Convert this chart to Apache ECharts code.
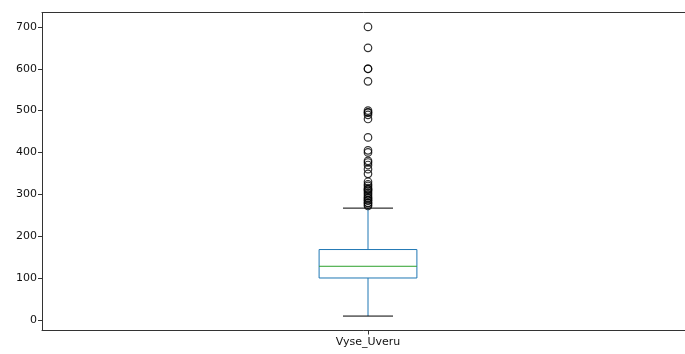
<!DOCTYPE html>
<html>
<head>
<meta charset="utf-8">
<script src="https://cdn.jsdelivr.net/npm/echarts@6/dist/echarts.min.js"></script>
<style>html,body{margin:0;padding:0;background:#fff}#c{width:685px;height:354px}</style>
</head>
<body>
<div id="c"></div>
<script>
var categories = ['Vyse_Uveru'];
// [min whisker, Q1, median, Q3, max whisker]
var boxStats = [[9, 100, 128, 168, 267]];
var outliers = [700, 650, 600, 600, 570, 500, 496, 495, 490, 480, 436, 405, 400, 380, 376, 370, 360, 349, 330, 324, 320, 315, 312, 311, 308, 304, 300, 296, 292, 290, 286, 285, 280, 279, 275, 272];
var yTicks = [0, 100, 200, 300, 400, 500, 600, 700];

var chart = echarts.init(document.getElementById('c'), null, {renderer: 'canvas'});
var boxData = boxStats.map(function (s, i) { return [i].concat(s); });
var outlierData = outliers.map(function (v) { return [0, v]; });

chart.setOption({
  animation: false,
  grid: {left: 42, top: 12.5, right: -9, bottom: 23.5, outerBoundsMode: 'none', containLabel: false, show: false},
  xAxis: [{
    type: 'category', data: categories, boundaryGap: true,
    axisLine: {show: true, onZero: false, lineStyle: {color: '#333', width: 1}},
    axisTick: {show: true, alignWithLabel: true, length: 4, lineStyle: {color: '#333'}},
    axisLabel: {color: '#111', fontSize: 11, fontFamily: 'DejaVu Sans', margin: 6},
    splitLine: {show: false}
  }, {
    type: 'category', data: categories, position: 'top',
    axisLine: {show: true, onZero: false, lineStyle: {color: '#333', width: 1}},
    axisTick: {show: false}, axisLabel: {show: false}, splitLine: {show: false}
  }],
  yAxis: {
    type: 'value', min: -25.5, max: 734.5,
    axisLine: {show: true, onZero: false, lineStyle: {color: '#333', width: 1}},
    axisTick: {show: true, length: 4, lineStyle: {color: '#333'}, customValues: yTicks},
    axisLabel: {color: '#111', fontSize: 11, fontFamily: 'DejaVu Sans', margin: 5, customValues: yTicks},
    splitLine: {show: false}
  },
  series: [
    {
      type: 'custom',
      data: boxData,
      encode: {x: 0, y: [1, 2, 3, 4, 5]},
      renderItem: function (params, api) {
        var x = api.value(0);
        var pMin = api.coord([x, api.value(1)]);
        var pQ1 = api.coord([x, api.value(2)]);
        var pMed = api.coord([x, api.value(3)]);
        var pQ3 = api.coord([x, api.value(4)]);
        var pMax = api.coord([x, api.value(5)]);
        var band = api.size([1, 0])[0];
        var bw = band * 0.15;
        var cw = band * 0.0767;
        var cx = pMed[0];
        var blue = '#1f77b4';
        return {
          type: 'group',
          children: [
            {type: 'line', shape: {x1: cx, y1: pQ1[1], x2: cx, y2: pMin[1]}, style: {stroke: blue, lineWidth: 1}},
            {type: 'line', shape: {x1: cx, y1: pQ3[1], x2: cx, y2: pMax[1]}, style: {stroke: blue, lineWidth: 1}},
            {type: 'line', shape: {x1: cx - cw / 2, y1: pMin[1], x2: cx + cw / 2, y2: pMin[1]}, style: {stroke: '#000', lineWidth: 1}},
            {type: 'line', shape: {x1: cx - cw / 2, y1: pMax[1], x2: cx + cw / 2, y2: pMax[1]}, style: {stroke: '#000', lineWidth: 1}},
            {type: 'rect', shape: {x: cx - bw / 2, y: pQ3[1], width: bw, height: pQ1[1] - pQ3[1]}, style: {fill: 'none', stroke: blue, lineWidth: 1}},
            {type: 'line', shape: {x1: cx - bw / 2, y1: pMed[1], x2: cx + bw / 2, y2: pMed[1]}, style: {stroke: '#2ca02c', lineWidth: 1}}
          ]
        };
      },
      z: 2
    },
    {
      type: 'scatter',
      data: outlierData,
      symbol: 'circle', symbolSize: 7.5,
      itemStyle: {color: 'rgba(0,0,0,0)', borderColor: '#000', borderWidth: 1.2},
      z: 3
    }
  ]
});
</script>
</body>
</html>
